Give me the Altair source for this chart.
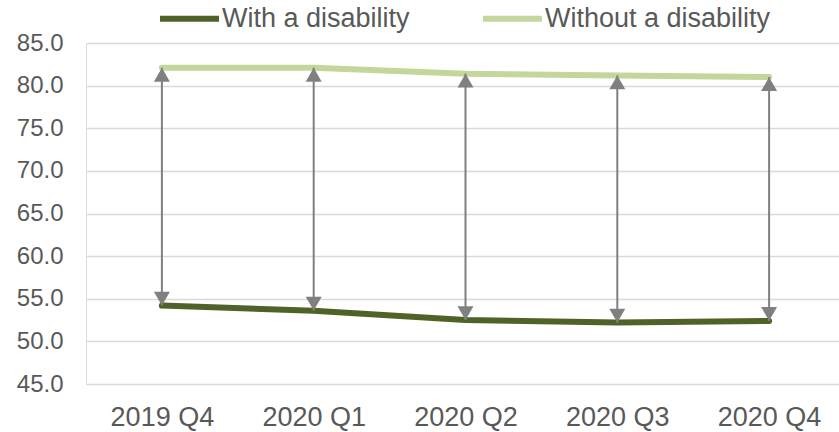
import altair as alt
import pandas as pd

quarters = ["2019 Q4", "2020 Q1", "2020 Q2", "2020 Q3", "2020 Q4"]
with_disability = [54.2, 53.6, 52.5, 52.2, 52.4]
without_disability = [82.1, 82.1, 81.4, 81.2, 81.0]
series_names = ["With a disability", "Without a disability"]
series_colors = ["#4F6228", "#C3D69B"]
y_ticks = [45, 50, 55, 60, 65, 70, 75, 80, 85]

rows = []
for q, v in zip(quarters, with_disability):
    rows.append({"quarter": q, "series": series_names[0], "value": v})
for q, v in zip(quarters, without_disability):
    rows.append({"quarter": q, "series": series_names[1], "value": v})
df = pd.DataFrame(rows)

arr = pd.DataFrame({"quarter": quarters, "low": with_disability, "high": without_disability})

FONT = "Liberation Sans"
GREY = "#595959"

x_enc = alt.X(
    "quarter:N",
    sort=quarters,
    scale=alt.Scale(type="point", padding=0.5, range=[0, 759]),
    axis=alt.Axis(title=None, labelAngle=0, domain=False, ticks=False, tickSize=0,
                  labelFontSize=27, labelFont=FONT, labelColor=GREY, labelPadding=20,
                  grid=False),
)
y_scale = alt.Scale(domain=[45, 85], nice=False, zero=False)
y_axis = alt.Axis(title=None, values=y_ticks, format=".1f", domain=False, ticks=False,
                  tickSize=0, labelFontSize=24, labelFont=FONT, labelColor=GREY,
                  labelPadding=23, grid=True, gridColor="#D9D9D9", gridWidth=1.5)

lines = alt.Chart(df).mark_line(strokeWidth=6, strokeCap="round", strokeJoin="round").encode(
    x=x_enc,
    y=alt.Y("value:Q", scale=y_scale, axis=y_axis),
    color=alt.Color(
        "series:N",
        scale=alt.Scale(domain=series_names, range=series_colors),
        legend=alt.Legend(
            title=None, orient="none", legendX=71, legendY=-57, direction="horizontal",
            symbolType="stroke", symbolSize=3481, symbolStrokeWidth=6,
            labelFontSize=27, labelFont=FONT, labelColor=GREY, labelLimit=500,
            columnPadding=61, labelOffset=0, padding=0,
        ),
    ),
)

rules = alt.Chart(arr).mark_rule(color="#808080", strokeWidth=2).encode(
    x=alt.X("quarter:N", sort=quarters),
    y=alt.Y("low:Q"),
    y2="high:Q",
)
heads_up = alt.Chart(arr).mark_point(shape="triangle-up", size=256, filled=True,
                                     color="#808080", opacity=1, yOffset=7).encode(
    x=alt.X("quarter:N", sort=quarters),
    y=alt.Y("high:Q"),
)
heads_down = alt.Chart(arr).mark_point(shape="triangle-down", size=256, filled=True,
                                       color="#808080", opacity=1, yOffset=-7).encode(
    x=alt.X("quarter:N", sort=quarters),
    y=alt.Y("low:Q"),
)

chart = alt.layer(lines, rules, heads_up, heads_down).properties(
    width=753,
    height=341,
    autosize=alt.AutoSizeParams(type="none"),
    padding={"left": 86, "top": 43, "right": 0, "bottom": 48},
).configure_view(stroke=None).configure(background="white")

chart.save("out.html", embed_options={"renderer": "svg", "actions": False})
